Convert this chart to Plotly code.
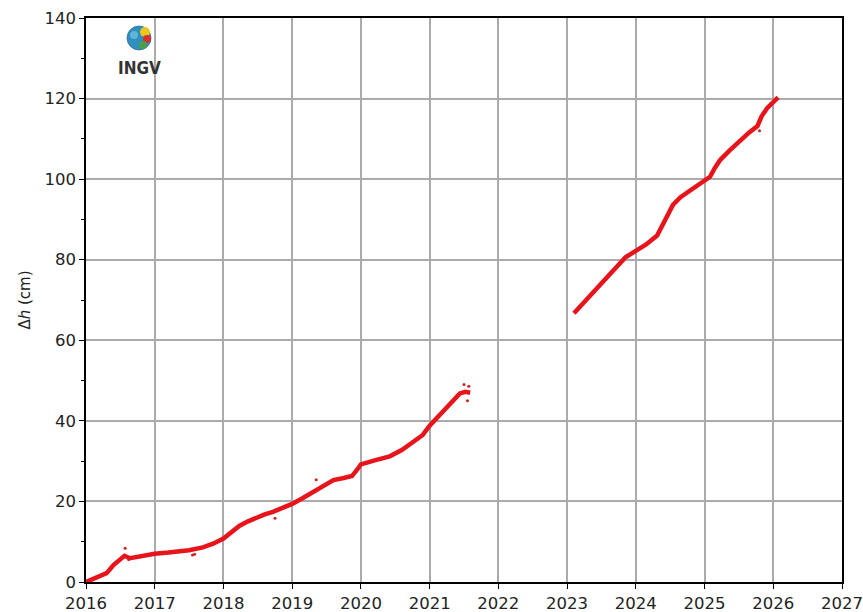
import plotly.graph_objects as go

# Ground uplift (cm) vs decimal year, two GNSS record segments
years_a = [2016.00, 2016.10, 2016.20, 2016.30, 2016.40, 2016.49, 2016.56, 2016.64,
           2016.80, 2017.00, 2017.20, 2017.36, 2017.50, 2017.70, 2017.85, 2018.00,
           2018.12, 2018.23, 2018.35, 2018.47, 2018.60, 2018.72, 2018.86, 2019.00,
           2019.15, 2019.30, 2019.45, 2019.60, 2019.75, 2019.87, 2019.95, 2020.00,
           2020.20, 2020.42, 2020.60, 2020.76, 2020.90, 2021.00, 2021.12, 2021.25,
           2021.35, 2021.44, 2021.52, 2021.59]
dh_a = [0.0, 0.8, 1.5, 2.2, 4.2, 5.4, 6.5, 5.9,
        6.5, 7.0, 7.3, 7.5, 7.9, 8.6, 9.5, 10.8,
        12.3, 13.9, 15.0, 16.0, 16.8, 17.4, 18.3, 19.4,
        20.8, 22.3, 24.0, 25.3, 25.8, 26.3, 28.0, 29.2,
        30.2, 31.2, 32.8, 34.6, 36.5, 38.8, 41.0, 43.2,
        45.2, 46.8, 47.2, 47.0]

years_b = [2023.10, 2023.25, 2023.40, 2023.55, 2023.70, 2023.85, 2024.00, 2024.15,
           2024.31, 2024.42, 2024.54, 2024.65, 2024.80, 2024.93, 2025.00, 2025.08,
           2025.15, 2025.23, 2025.37, 2025.52, 2025.65, 2025.77, 2025.83, 2025.91,
           2026.00, 2026.07]
dh_b = [66.7, 69.5, 72.3, 75.0, 78.2, 80.6, 82.2, 83.8,
        86.0, 89.5, 93.6, 95.5, 97.2, 98.7, 99.4, 100.6,
        102.8, 104.8, 107.2, 109.7, 111.6, 113.2, 115.6, 117.6,
        119.2, 120.3]

# Isolated noisy samples off the main trend
out_x = [2016.57, 2016.62, 2017.55, 2017.58, 2018.75, 2019.35, 2021.50, 2021.55, 2021.57,
         2025.80]
out_y = [8.4, 5.6, 6.7, 6.9, 15.8, 25.4, 49.0, 45.0, 48.6, 112.0]

x_ticks = list(range(2016, 2028))
y_ticks = list(range(0, 141, 20))

RED = "#e8141c"

fig = go.Figure()
fig.add_trace(go.Scatter(x=years_a, y=dh_a, mode="lines",
                         line=dict(color=RED, width=4.5), hoverinfo="skip",
                         showlegend=False))
fig.add_trace(go.Scatter(x=years_b, y=dh_b, mode="lines",
                         line=dict(color=RED, width=4.5), hoverinfo="skip",
                         showlegend=False))
fig.add_trace(go.Scatter(x=out_x, y=out_y, mode="markers",
                         marker=dict(color="#d0201f", size=3), showlegend=False))

axis_font = dict(family="DejaVu Sans", size=16.5, color="#222222")

fig.update_xaxes(range=[2016, 2027], tickmode="array", tickvals=x_ticks,
                 ticktext=[str(v) for v in x_ticks], tickfont=axis_font,
                 showgrid=True, gridcolor="#ababab", gridwidth=1.5,
                 showline=True, linecolor="black", linewidth=1.5, mirror=True,
                 ticks="outside", ticklen=5, tickcolor="black", zeroline=False,
                 automargin=False)
fig.update_yaxes(range=[0, 140], tickmode="array", tickvals=y_ticks,
                 tickfont=axis_font,
                 showgrid=True, gridcolor="#ababab", gridwidth=1.5,
                 showline=True, linecolor="black", linewidth=1.5, mirror=True,
                 ticks="outside", ticklen=5, tickcolor="black", zeroline=False,
                 automargin=False,
                 minor=dict(tickvals=list(range(10, 140, 20)), ticks="outside",
                            ticklen=3, tickcolor="black", showgrid=False),
                 title=dict(text="Δ<i>h</i> (cm)", font=dict(family="DejaVu Sans",
                                                           size=15, color="#222222"),
                            standoff=10))

# INGV mark: small globe and wordmark in the upper-left corner
PX0, PY0, PW, PH = 86, 18, 756, 564


def dom_x(px):
    return (px - PX0) / PW


def dom_y(py):
    return 1 - (py - PY0) / PH


gx, gy, r = 139, 38, 12
fig.add_shape(type="circle", xref="x domain", yref="y domain",
              x0=dom_x(gx - r), x1=dom_x(gx + r), y0=dom_y(gy + r), y1=dom_y(gy - r),
              fillcolor="#2f8fc0", line=dict(color="#3a6f8f", width=0.8), layer="above")
for (cx, cy, rr, col) in [(145, 32, 5, "#e8c81e"), (147, 39, 4, "#d6322a"),
                          (143, 45, 4, "#4aa04a"), (134, 35, 4, "#5fb5d8")]:
    fig.add_shape(type="circle", xref="x domain", yref="y domain",
                  x0=dom_x(cx - rr), x1=dom_x(cx + rr),
                  y0=dom_y(cy + rr), y1=dom_y(cy - rr),
                  fillcolor=col, line=dict(width=0), layer="above")
fig.add_annotation(xref="x domain", yref="y domain",
                   x=dom_x(139), y=dom_y(68), xanchor="center", yanchor="middle",
                   text="<b>INGV</b>", showarrow=False,
                   font=dict(family="DejaVu Sans Condensed, Liberation Sans Narrow, DejaVu Sans",
                             size=17, color="#333333"))

fig.update_layout(width=863, height=612,
                  margin=dict(l=86, r=21, t=18, b=30),
                  paper_bgcolor="white", plot_bgcolor="white")

fig.write_html("out.html")
